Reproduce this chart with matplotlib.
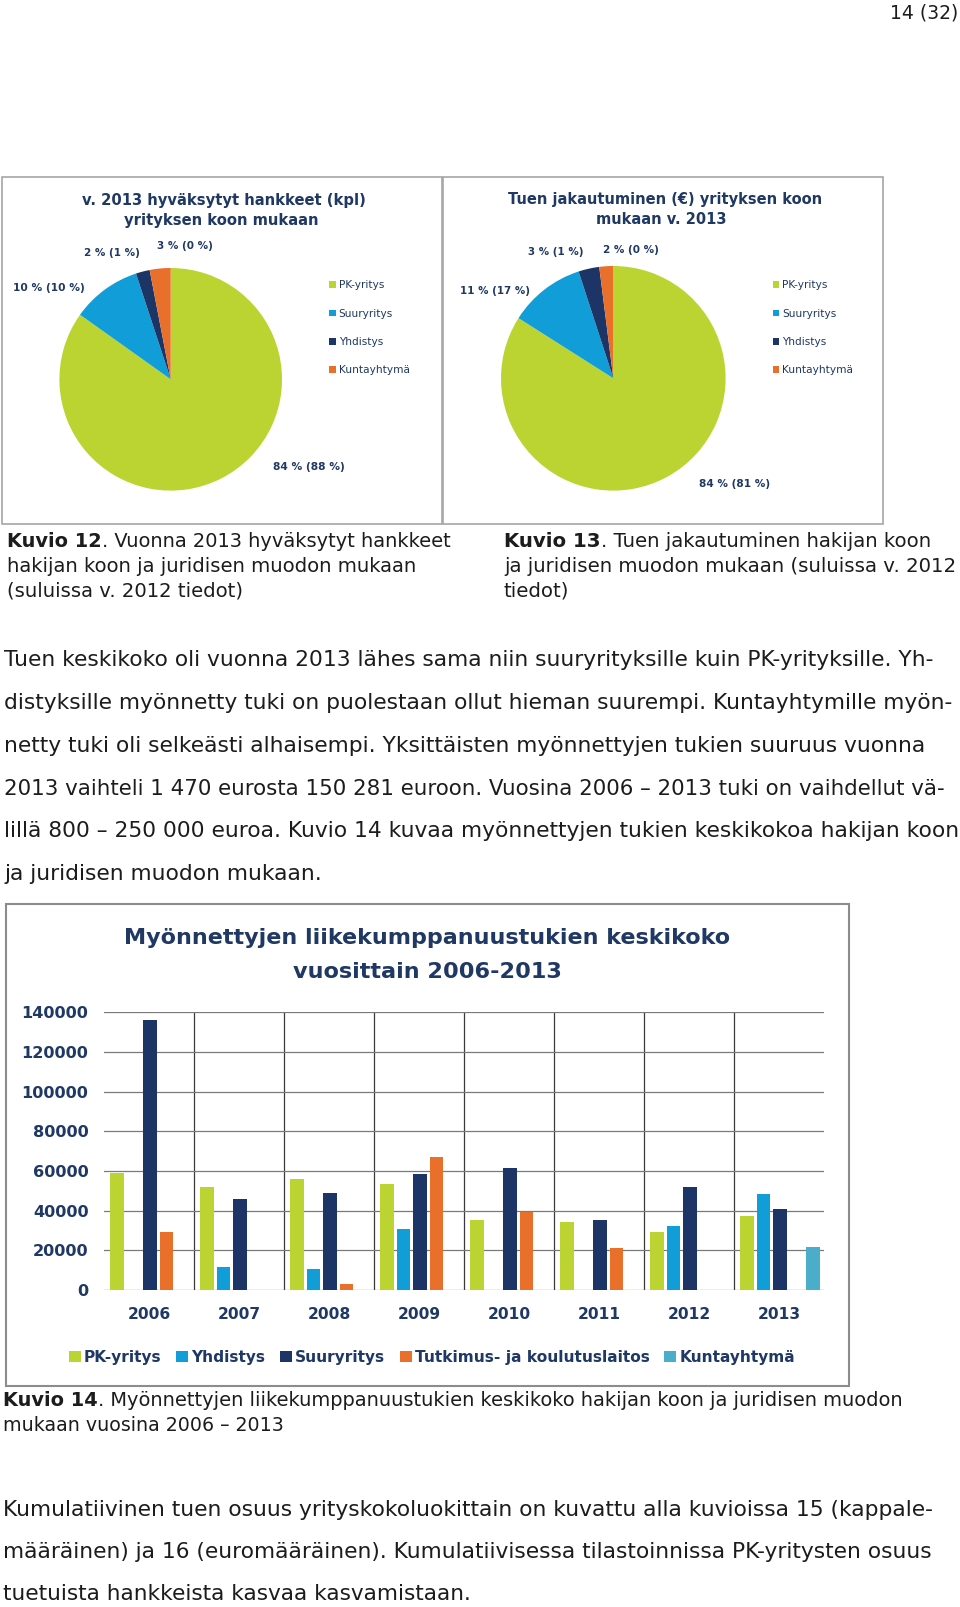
import numpy as np
import matplotlib
matplotlib.use('Agg')
import matplotlib.pyplot as plt
from matplotlib.patches import Rectangle

W, H = 960, 1607
plt.rcParams['font.family'] = ['DejaVu Sans']

NAVY = '#1f3864'
TEXT = '#1c1c1c'
GREEN = '#bcd431'
BLUE = '#119ed8'
DARK = '#1c3566'
ORANGE = '#e8702a'
TEAL = '#4aaecb'

# --- pie data (2013 share, 2012 share in brackets) ---
pie_names = ['PK-yritys', 'Suuryritys', 'Yhdistys', 'Kuntayhtymä']
pie_colors = [GREEN, BLUE, DARK, ORANGE]
count_share = [84, 10, 2, 3]
count_labels = ['84 % (88 %)', '10 % (10 %)', '2 % (1 %)', '3 % (0 %)']
euro_share = [84, 11, 3, 2]
euro_labels = ['84 % (81 %)', '11 % (17 %)', '3 % (1 %)', '2 % (0 %)']

# --- bar data: average grant per year and applicant type ---
years = ['2006', '2007', '2008', '2009', '2010', '2011', '2012', '2013']
pk_yritys = [59000, 52000, 56000, 53500, 35500, 34500, 29000, 37500]
yhdistys = [np.nan, 11500, 10500, 30500, np.nan, np.nan, 32500, 48500]
suuryritys = [136000, 46000, 49000, 58500, 61500, 35500, 52000, 41000]
tutkimus = [29000, np.nan, 3000, 67000, 39500, 21000, np.nan, np.nan]
kuntayhtyma = [np.nan, np.nan, np.nan, np.nan, np.nan, np.nan, np.nan, 21500]

fig = plt.figure(figsize=(W / 100, H / 100), dpi=100)
fig.patch.set_facecolor('white')
renderer = fig.canvas.get_renderer()


def fx(x):
    return x / W


def fy(y):
    return 1 - y / H


def width_of(t):
    return t.get_window_extent(renderer).width


def fit(s, x, y, w, weight='normal', color=NAVY, ha='center', va='center'):
    # text scaled so that it is w pixels wide
    t = fig.text(fx(x), fy(y), s, fontsize=10, fontweight=weight, ha=ha, va=va, color=color)
    t.set_fontsize(10 * w / width_of(t))
    return t


def block(lines, x0, baselines, ends, color=TEXT):
    # lines of (text, weight) runs, one common font size for the block,
    # a line that would run past its end is shrunk a little
    ratios = []
    for runs, x1 in zip(lines, ends):
        w = 0
        for s, wt in runs:
            t = fig.text(0, 0, s, fontsize=10, fontweight=wt)
            w += width_of(t)
            t.remove()
        ratios.append((x1 - x0) / w)
    size = 10 * np.mean(ratios)
    for runs, yb, r in zip(lines, baselines, ratios):
        sz = min(size, 10 * r * 1.005)
        x = x0
        for s, wt in runs:
            t = fig.text(fx(x), fy(yb), s, fontsize=sz, fontweight=wt,
                         va='baseline', color=color)
            x += width_of(t)


def box(x0, y0, x1, y1, color, lw):
    fig.add_artist(Rectangle((fx(x0), fy(y1)), (x1 - x0) / W, (y1 - y0) / H,
                             transform=fig.transFigure, fill=False,
                             edgecolor=color, lw=lw))


# page number
fit('14 (32)', 958, 13, 68, color=TEXT, ha='right')

# ---------------- pie charts ----------------
box(2, 176.5, 441.5, 524, '#a6a6a6', 1.2)
box(443, 176.5, 883, 524, '#a6a6a6', 1.2)

t = fig.text(0, 0, 'Kuntayhtymä', fontsize=10)
leg_fs = 10 * 70 / width_of(t)
t.remove()


def pie(cx, cy, r, shares, labels, label_xy, label_w, titles, leg_x, leg_y):
    ax = fig.add_axes([fx(cx - r), fy(cy + r), 2 * r / W, 2 * r / H])
    wedges, _ = ax.pie(shares, colors=pie_colors, startangle=90,
                       counterclock=False, radius=1,
                       wedgeprops=dict(linewidth=0))
    ax.set_xlim(-1, 1)
    ax.set_ylim(-1, 1)
    for s, (lx, ly), w in zip(labels, label_xy, label_w):
        fit(s, lx, ly, w, weight='bold')
    for s, (tx, ty), w in titles:
        fit(s, tx, ty, w, weight='bold')
    fs_px = leg_fs * 100 / 72
    leg = ax.legend(wedges, pie_names, loc='upper left',
                    bbox_to_anchor=(fx(leg_x), fy(leg_y - 0.45 * fs_px)),
                    bbox_transform=fig.transFigure, frameon=False,
                    fontsize=leg_fs, handlelength=0.6, handleheight=0.6,
                    handletextpad=0.3, labelspacing=1.75, borderpad=0,
                    borderaxespad=0)
    for lt in leg.get_texts():
        lt.set_color(NAVY)


pie(170.7, 379.3, 111.3, count_share, count_labels,
    [(309, 466.7), (49, 288.3), (112, 253.3), (184.7, 246)], [72, 72, 56, 56],
    [('v. 2013 hyväksytyt hankkeet (kpl)', (223.8, 200), 284),
     ('yrityksen koon mukaan', (221, 221), 194)],
    329.3, 285)

pie(613.3, 378.3, 112.3, euro_share, euro_labels,
    [(735, 484.3), (495, 291), (556, 251.7), (630.5, 250)], [71.5, 70, 55, 55.6],
    [('Tuen jakautuminen (€) yrityksen koon', (665.5, 199.3), 314),
     ('mukaan v. 2013', (661.7, 220), 130)],
    772.7, 285)

# captions under the pies
block([[('Kuvio 12', 'bold'), ('. Vuonna 2013 hyväksytyt hankkeet', 'normal')],
       [('hakijan koon ja juridisen muodon mukaan', 'normal')],
       [('(suluissa v. 2012 tiedot)', 'normal')]],
      7.3, [546.7, 571.7, 596.7], [448, 424, 245])
block([[('Kuvio 13', 'bold'), ('. Tuen jakautuminen hakijan koon', 'normal')],
       [('ja juridisen muodon mukaan (suluissa v. 2012', 'normal')],
       [('tiedot)', 'normal')]],
      504, [546.7, 571.7, 596.7], [935, 956.7, 570])

# body text
block([[('Tuen keskikoko oli vuonna 2013 lähes sama niin suuryrityksille kuin PK-yrityksille. Yh-', 'normal')],
       [('distyksille myönnetty tuki on puolestaan ollut hieman suurempi. Kuntayhtymille myön-', 'normal')],
       [('netty tuki oli selkeästi alhaisempi. Yksittäisten myönnettyjen tukien suuruus vuonna', 'normal')],
       [('2013 vaihteli 1 470 eurosta 150 281 euroon. Vuosina 2006 – 2013 tuki on vaihdellut vä-', 'normal')],
       [('lillä 800 – 250 000 euroa. Kuvio 14 kuvaa myönnettyjen tukien keskikokoa hakijan koon', 'normal')],
       [('ja juridisen muodon mukaan.', 'normal')]],
      4, [666.5, 709.2, 751.8, 794.6, 837.2, 880], [931, 956, 943, 940, 956, 321])

# ---------------- bar chart ----------------
box(6, 904, 849, 1386, '#8c8c8c', 1.5)
fit('Myönnettyjen liikekumppanuustukien keskikoko', 427, 938, 604, weight='bold')
fit('vuosittain 2006-2013', 427, 971.7, 268, weight='bold')

ax = fig.add_axes([fx(104), fy(1290), 720 / W, (1290 - 1012.2) / H])
x = np.arange(len(years))
series = [(pk_yritys, 'PK-yritys', GREEN),
          (yhdistys, 'Yhdistys', BLUE),
          (suuryritys, 'Suuryritys', DARK),
          (tutkimus, 'Tutkimus- ja koulutuslaitos', ORANGE),
          (kuntayhtyma, 'Kuntayhtymä', TEAL)]
for i, (vals, name, col) in enumerate(series):
    ax.bar(x + (i - 2) * 0.183 + 0.011, vals, 0.152, color=col, label=name, zorder=3)

ax.set_xlim(-0.5, len(years) - 0.5)
ax.set_ylim(0, 140000)
ax.set_yticks(np.arange(0, 140001, 20000))
ax.set_xticks(x)
ax.set_xticklabels(years)
ax.set_xticks(x[:-1] + 0.5, minor=True)
ax.yaxis.grid(True, color='#7a7a7a', lw=0.9)
ax.xaxis.grid(True, which='minor', color='#3a3a3a', lw=0.9)
ax.set_axisbelow(True)
for sp in ax.spines.values():
    sp.set_visible(False)
ax.tick_params(axis='both', which='both', length=0)
ax.tick_params(axis='y', pad=11.2, labelsize=11.6, labelcolor=NAVY)
ax.tick_params(axis='x', pad=12, labelsize=11.2, labelcolor=NAVY)
for lab in ax.get_xticklabels() + ax.get_yticklabels():
    lab.set_fontweight('bold')

h, l = ax.get_legend_handles_labels()
leg = fig.legend(h, l, ncol=5, loc='center', bbox_to_anchor=(fx(432), fy(1357.3)),
                 frameon=False, prop={'size': 11.1, 'weight': 'bold'},
                 handlelength=0.78, handleheight=0.78, handletextpad=0.2,
                 columnspacing=0.95, borderpad=0)
for lt in leg.get_texts():
    lt.set_color(NAVY)

# caption and closing text
block([[('Kuvio 14', 'bold'), ('. Myönnettyjen liikekumppanuustukien keskikoko hakijan koon ja juridisen muodon', 'normal')],
       [('mukaan vuosina 2006 – 2013', 'normal')]],
      3, [1405.5, 1431], [925, 282])
block([[('Kumulatiivinen tuen osuus yrityskokoluokittain on kuvattu alla kuvioissa 15 (kappale-', 'normal')],
       [('määräinen) ja 16 (euromääräinen). Kumulatiivisessa tilastoinnissa PK-yritysten osuus', 'normal')],
       [('tuetuista hankkeista kasvaa kasvamistaan.', 'normal')]],
      3, [1515.5, 1557.5, 1599.5], [934, 934, 468])

fig.savefig('out.png', dpi=100, facecolor='white')
